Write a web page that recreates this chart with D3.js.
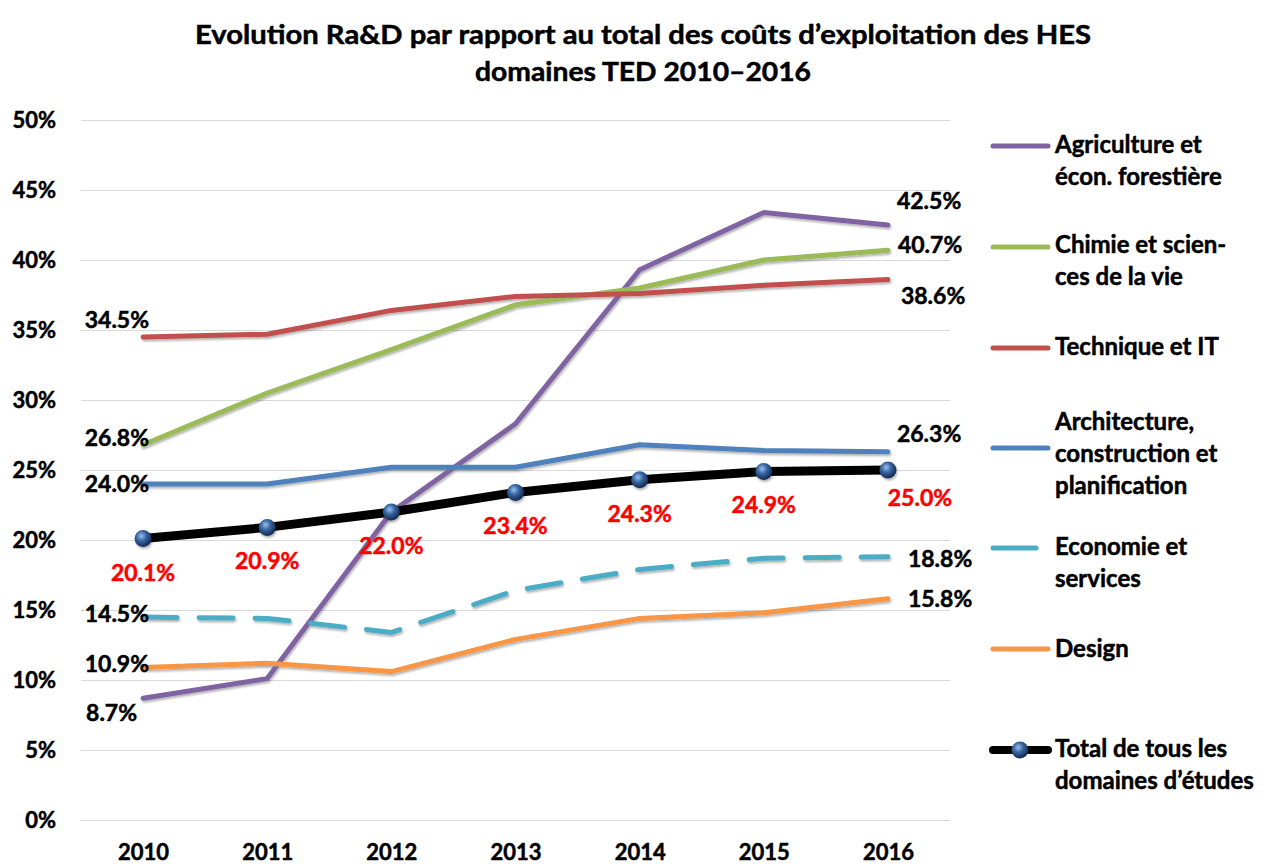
<!DOCTYPE html>
<html>
<head>
<meta charset="utf-8">
<script src="https://cdn.jsdelivr.net/npm/d3@7"></script>
<style>
  body { margin: 0; background: #fff; }
  svg { display: block; font-family: Lato, "Open Sans", sans-serif; font-weight: bold; }
  svg text { stroke: currentColor; stroke-width: 0.5px; }
</style>
</head>
<body>
<div id="chart"></div>
<script>
// data (percent)
const years = [2010, 2011, 2012, 2013, 2014, 2015, 2016];
const yTicks = [0, 5, 10, 15, 20, 25, 30, 35, 40, 45, 50];

const agriculture = [8.7, 10.1, 22.0, 28.3, 39.3, 43.4, 42.5];
const chimie = [26.8, 30.5, 33.6, 36.8, 38.0, 40.0, 40.7];
const technique = [34.5, 34.7, 36.4, 37.4, 37.6, 38.2, 38.6];
const architecture = [24.0, 24.0, 25.2, 25.2, 26.8, 26.4, 26.3];
const economie = [14.5, 14.4, 13.4, 16.4, 17.9, 18.7, 18.8];
const design = [10.9, 11.2, 10.6, 12.9, 14.4, 14.8, 15.8];
const total = [20.1, 20.9, 22.0, 23.4, 24.3, 24.9, 25.0];

const seriesNames = [
    ["Agriculture et", "écon. forestière"],
    ["Chimie et scien-", "ces de la vie"],
    ["Technique et IT"],
    ["Architecture,", "construction et", "planification"],
    ["Economie et", "services"],
    ["Design"],
    ["Total de tous les", "domaines d’études"],
];

const titleLines = [
    "Evolution Ra&D par rapport au total des coûts d’exploitation des HES",
    "domaines TED 2010–2016",
];

// styling / layout per series (not data)
const series = [
    { values: agriculture, color: "#8064A2", start: [-6, 23], end: [9, -16] },
    { values: chimie, color: "#9BBB59", start: [6, 1], end: [10, 3] },
    { values: technique, color: "#C0504D", start: [6, -9], end: [13, 24] },
    { values: architecture, color: "#4F81BD", start: [6, 8], end: [9, -10] },
    { values: economie, color: "#4BACC6", dash: "34,22", start: [6, 5], end: [20, 10] },
    { values: design, color: "#F79646", start: [6, 5], end: [20, 8] },
].map((s, i) => ({ ...s, name: seriesNames[i] }));

const W = 1264, H = 864;
const plot = { left: 81, right: 950, top: 120, bottom: 820 };

const svg = d3.select("#chart").append("svg")
    .attr("width", W)
    .attr("height", H);

const defs = svg.append("defs");
const shadow = defs.append("filter").attr("id", "shadow")
    .attr("x", "-10%").attr("y", "-10%").attr("width", "120%").attr("height", "130%");
shadow.append("feDropShadow")
    .attr("dx", 1).attr("dy", 2).attr("stdDeviation", 1.2)
    .attr("flood-color", "#000").attr("flood-opacity", 0.3);

const ball = defs.append("radialGradient").attr("id", "ball")
    .attr("cx", "40%").attr("cy", "35%").attr("r", "65%");
ball.append("stop").attr("offset", "0%").attr("stop-color", "#9DBFEA");
ball.append("stop").attr("offset", "45%").attr("stop-color", "#3766A3");
ball.append("stop").attr("offset", "100%").attr("stop-color", "#13294D");

const x = d3.scalePoint()
    .domain(years)
    .range([plot.left, plot.right])
    .padding(0.5);

const y = d3.scaleLinear()
    .domain([0, 50])
    .range([plot.bottom, plot.top]);

// title
svg.append("g").attr("color", "#000").selectAll("text")
    .data(titleLines)
    .join("text")
    .attr("x", 643)
    .attr("y", (d, i) => 44 + i * 37)
    .attr("text-anchor", "middle")
    .attr("font-size", 26)
    .attr("textLength", (d, i) => i === 0 ? 896 : 336)
    .attr("lengthAdjust", "spacingAndGlyphs")
    .text((d) => d);

// grid lines
svg.append("g")
    .selectAll("line")
    .data(yTicks)
    .join("line")
    .attr("x1", plot.left)
    .attr("x2", plot.right)
    .attr("y1", (d) => y(d) + 0.5)
    .attr("y2", (d) => y(d) + 0.5)
    .attr("stroke", "#D9D9D9")
    .attr("stroke-width", 1);

// y axis
const yAxis = svg.append("g")
    .attr("transform", `translate(${plot.left - 25},0)`)
    .call(d3.axisLeft(y).tickValues(yTicks).tickFormat((d) => d + "%").tickSize(0).tickPadding(0));
yAxis.select(".domain").remove();
yAxis.attr("color", "#000").selectAll("text")
    .attr("font-size", 22)
    .attr("font-family", "Lato, sans-serif")
    .attr("font-weight", "bold")
    .attr("dy", "0.36em");

// x axis
const xAxis = svg.append("g")
    .attr("transform", `translate(0,${plot.bottom + 24})`)
    .call(d3.axisBottom(x).tickSize(0).tickPadding(0));
xAxis.select(".domain").remove();
xAxis.attr("color", "#000").selectAll("text")
    .attr("font-size", 22)
    .attr("font-family", "Lato, sans-serif")
    .attr("font-weight", "bold")
    .attr("dy", "0.71em");

const line = d3.line()
    .x((d, i) => x(years[i]))
    .y((d) => y(d));

// domain lines
const lines = svg.append("g").attr("filter", "url(#shadow)");
lines.selectAll("path")
    .data(series)
    .join("path")
    .attr("d", (d) => line(d.values))
    .attr("fill", "none")
    .attr("stroke", (d) => d.color)
    .attr("stroke-width", 5)
    .attr("stroke-linejoin", "round")
    .attr("stroke-linecap", "round")
    .attr("stroke-dasharray", (d) => d.dash || null);

// total line on top
svg.append("path")
    .attr("d", line(total))
    .attr("fill", "none")
    .attr("stroke", "#000")
    .attr("stroke-width", 9)
    .attr("stroke-linejoin", "round")
    .attr("stroke-linecap", "round");

svg.append("g")
    .selectAll("circle")
    .data(total)
    .join("circle")
    .attr("cx", (d, i) => x(years[i]))
    .attr("cy", (d) => y(d))
    .attr("r", 8.5)
    .attr("fill", "url(#ball)")
    .attr("filter", "url(#shadow)");

// start / end value labels
const fmt = (v) => v.toFixed(1) + "%";
const endLabels = svg.append("g").attr("font-size", 23).attr("fill", "#000").attr("color", "#000");
series.forEach((s) => {
    const n = s.values.length - 1;
    endLabels.append("text")
        .attr("x", x(years[0]) + s.start[0])
        .attr("y", y(s.values[0]) + s.start[1])
        .attr("text-anchor", "end")
        .text(fmt(s.values[0]));
    endLabels.append("text")
        .attr("x", x(years[n]) + s.end[0])
        .attr("y", y(s.values[n]) + s.end[1])
        .attr("text-anchor", "start")
        .text(fmt(s.values[n]));
});

// total labels in red
svg.append("g")
    .attr("color", "#FF0000")
    .selectAll("text")
    .data(total)
    .join("text")
    .attr("x", (d, i) => x(years[i]) + (i === total.length - 1 ? 32 : 0))
    .attr("y", (d, i) => y(d) + (i === total.length - 1 ? 36 : 42))
    .attr("text-anchor", "middle")
    .attr("font-size", 23)
    .attr("fill", "#FF0000")
    .text(fmt);

// legend
const legendRows = [
    { ...series[0], lineY: 146, textY: 153 },
    { ...series[1], lineY: 247, textY: 253 },
    { ...series[2], lineY: 348, textY: 355 },
    { ...series[3], lineY: 448, textY: 430 },
    { ...series[4], lineY: 548, textY: 555 },
    { ...series[5], lineY: 649, textY: 657 },
    { name: seriesNames[6], color: "#000", total: true, lineY: 750, textY: 757 },
];

const legend = svg.append("g").attr("color", "#000");
const item = legend.selectAll("g")
    .data(legendRows)
    .join("g");

item.append("line")
    .attr("x1", 993)
    .attr("x2", (d) => d.dash ? 1036 : 1048)
    .attr("y1", (d) => d.lineY)
    .attr("y2", (d) => d.lineY)
    .attr("stroke", (d) => d.color)
    .attr("stroke-width", (d) => d.total ? 8 : 5)
    .attr("stroke-linecap", "round");

item.filter((d) => d.total)
    .append("circle")
    .attr("cx", 1020)
    .attr("cy", (d) => d.lineY)
    .attr("r", 8.5)
    .attr("fill", "url(#ball)");

item.append("text")
    .attr("x", 1055)
    .attr("y", (d) => d.textY)
    .attr("font-size", 24)
    .selectAll("tspan")
    .data((d) => d.name)
    .join("tspan")
    .attr("x", 1055)
    .attr("dy", (d, i) => i === 0 ? 0 : 32)
    .text((d) => d);
</script>
</body>
</html>
